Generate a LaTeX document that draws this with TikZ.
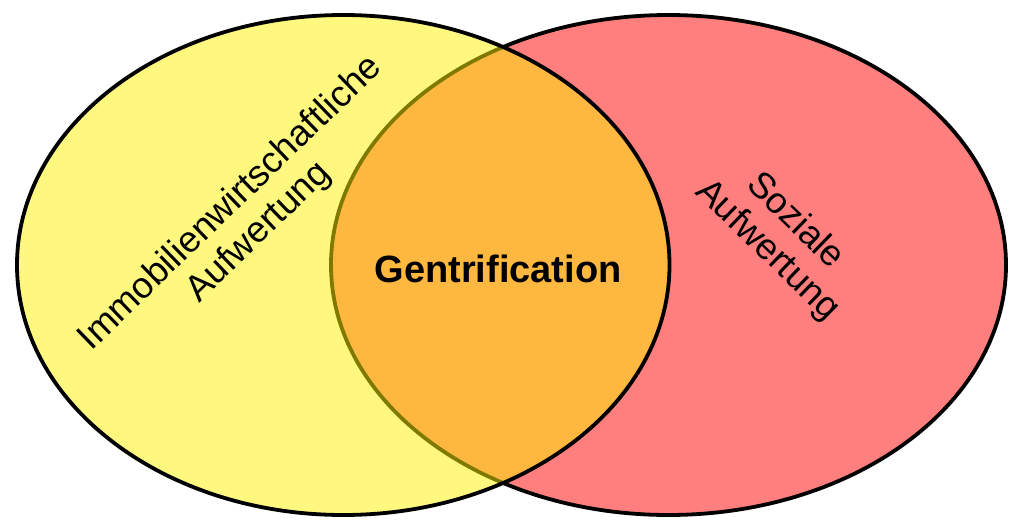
\documentclass[tikz,border=0pt]{standalone}
\usepackage{fontspec}
\setmainfont{Liberation Sans}
\usepackage{tikz}

\begin{document}
\begin{tikzpicture}
		[x=1pt,y=-1pt,line cap=round,
		%Styles
		set/.style={line width=3.8pt,draw=black,fill opacity=0.5},
		set label/.style={font=\fontsize{36.5}{40}\selectfont,align=center,inner sep=0pt},
		core label/.style={font=\fontsize{38}{42}\selectfont\bfseries,inner sep=0pt}
		]
		
		\useasboundingbox (0, 0) rectangle (1023, 530);
		
		%The sets
		\filldraw[set,fill=red] (668.5, 265) ellipse [x radius=337.5, y radius=250];
		\filldraw[set,fill=yellow] (343.25, 265) ellipse [x radius=326.25, y radius=250];
		
		%Labels
		\node[set label,rotate=44] (immo) at (245, 218) {Immobilienwirtschaftliche\\Aufwertung};
		\node[set label,rotate=-44] (sozial) at (781, 236) {Soziale\\Aufwertung};
		\node[core label] (gentri) at (498, 269) {Gentrification};
	\end{tikzpicture}
\end{document}
